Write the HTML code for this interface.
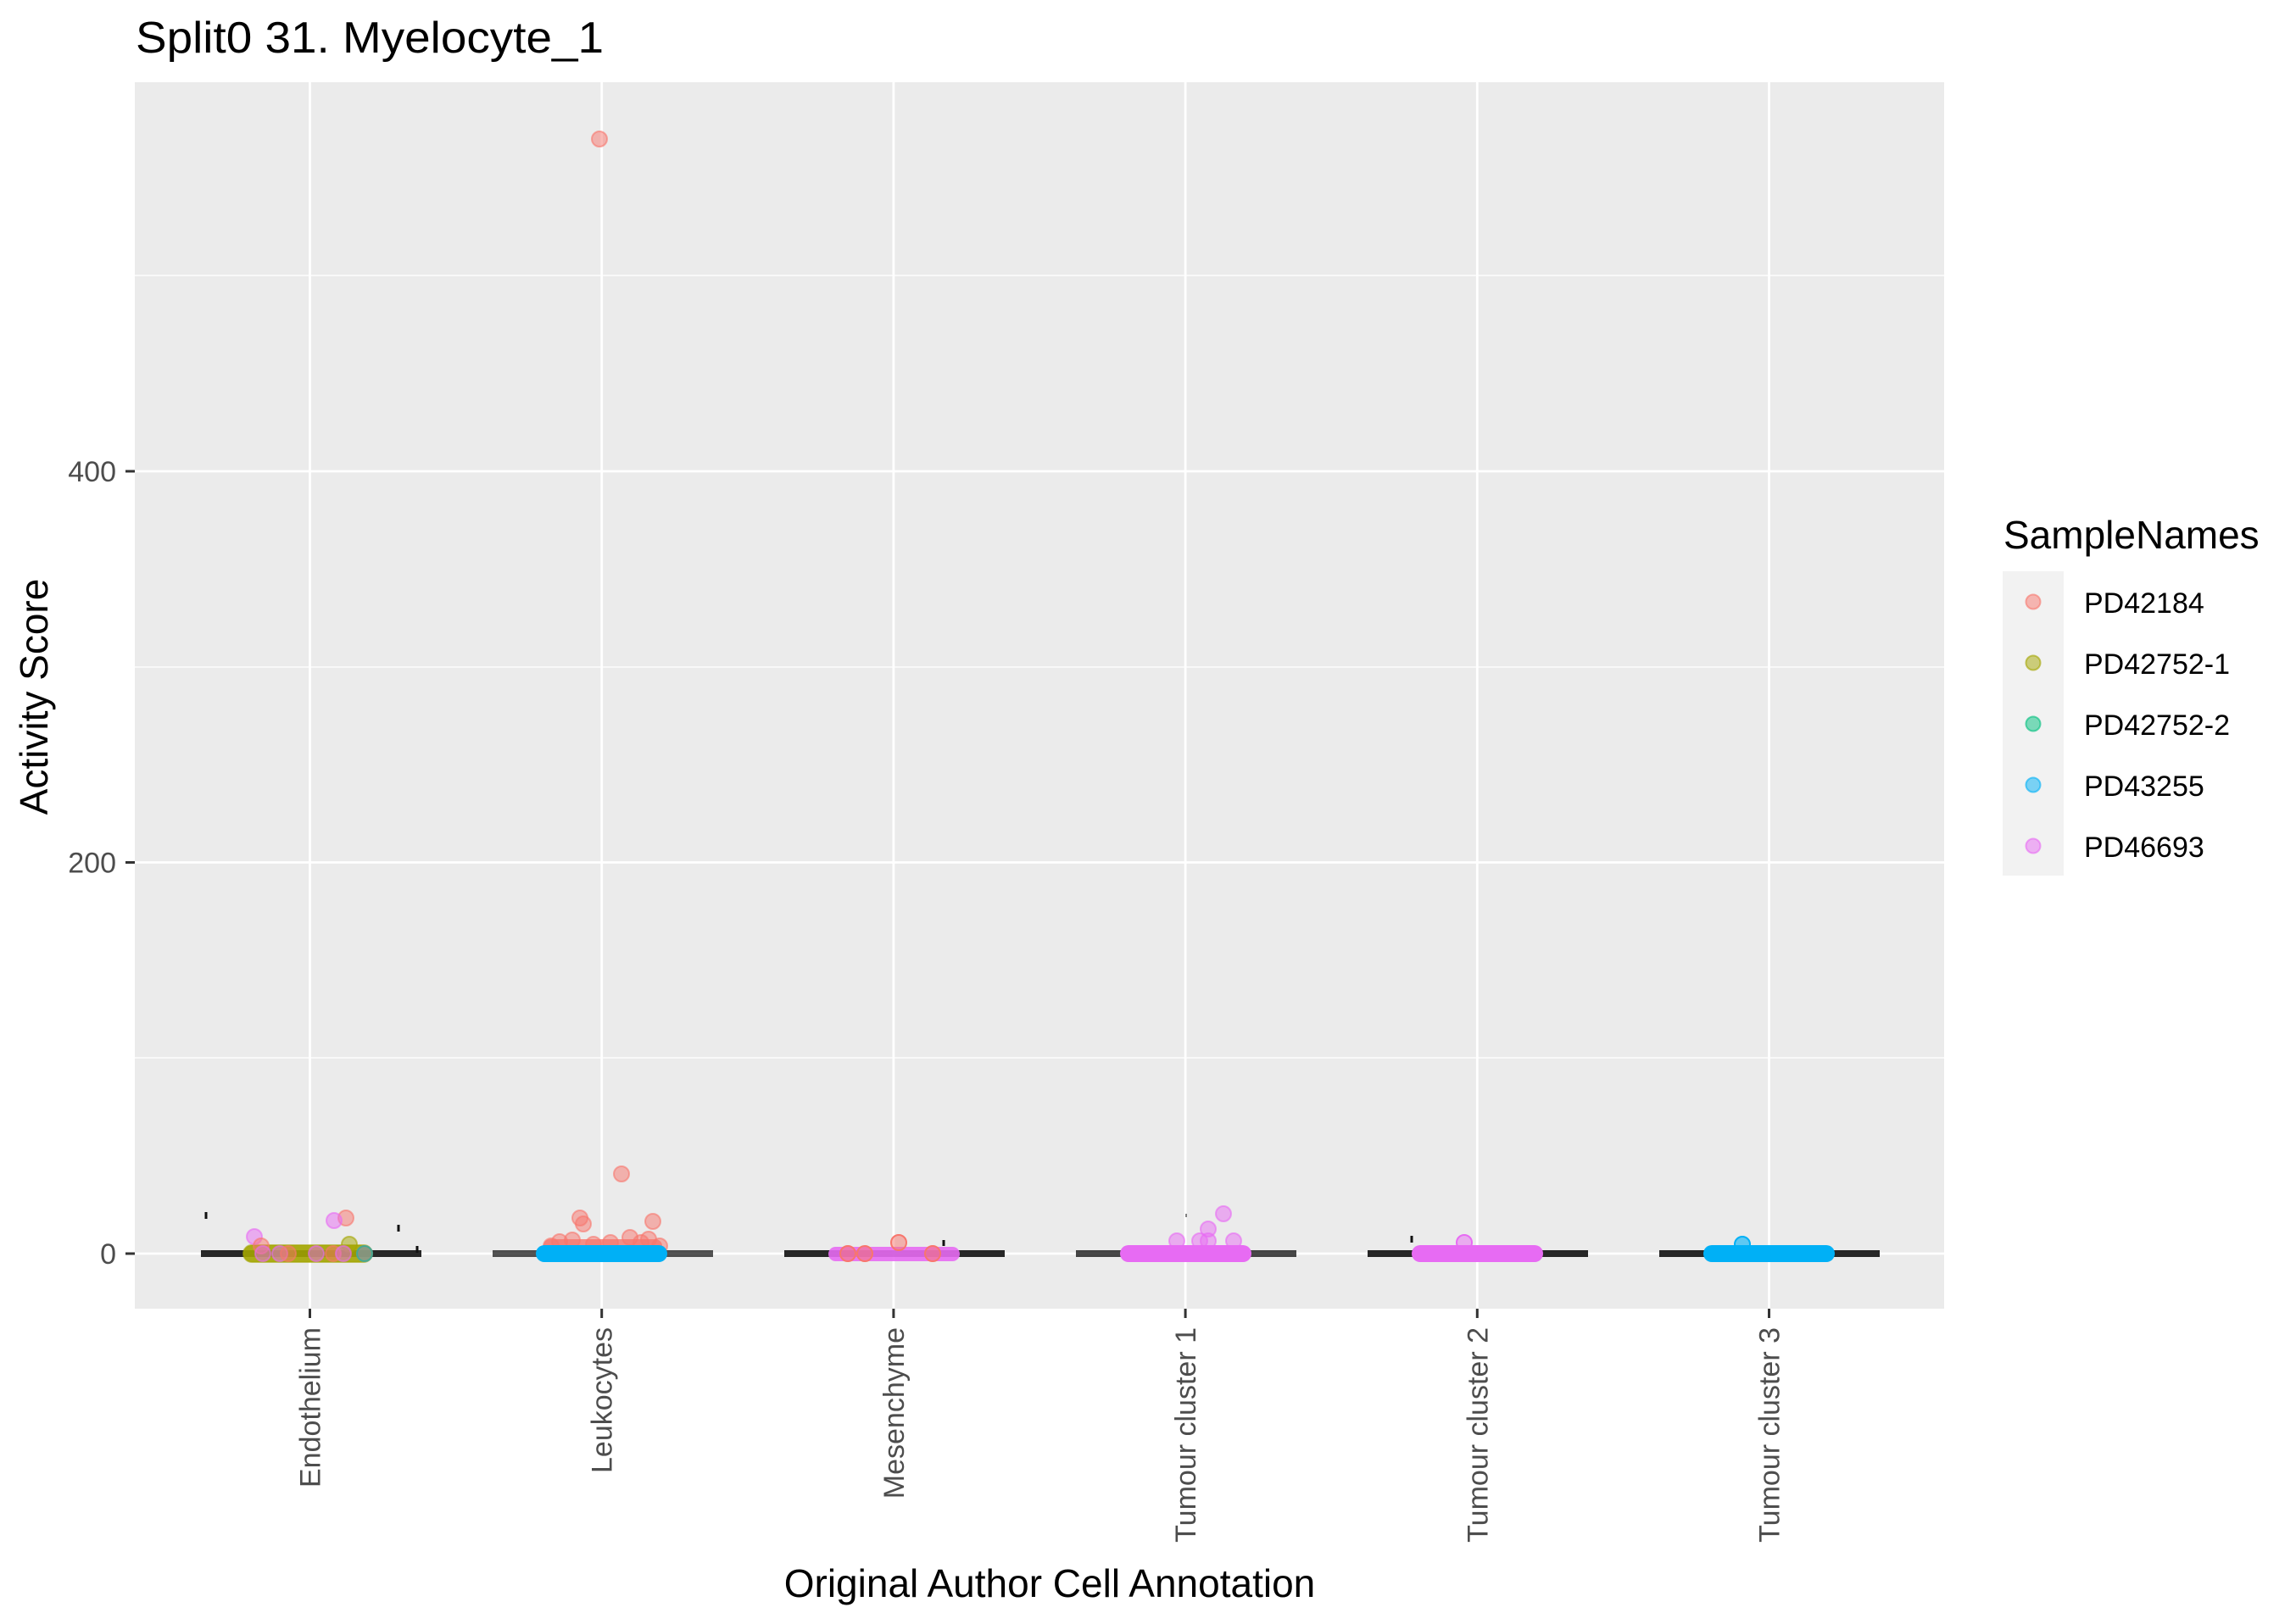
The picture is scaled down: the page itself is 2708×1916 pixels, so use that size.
<!DOCTYPE html>
<html><head><meta charset="utf-8"><style>html,body{margin:0;padding:0;background:#fff}svg{display:block}</style></head>
<body>
<svg width="2708" height="1916" viewBox="0 0 2708 1916" xmlns="http://www.w3.org/2000/svg" font-family="Liberation Sans, Arial, sans-serif">
<rect width="2708" height="1916" fill="#fff"/>
<text x="160" y="62" font-size="52" fill="#000" textLength="552" lengthAdjust="spacingAndGlyphs">Split0 31. Myelocyte_1</text>
<rect x="159" y="97" width="2134" height="1447" fill="#ebebeb"/>
<g stroke="#fff" stroke-width="1.3">
<line x1="159" x2="2293" y1="1248" y2="1248"/>
<line x1="159" x2="2293" y1="787" y2="787"/>
<line x1="159" x2="2293" y1="325" y2="325"/>
</g>
<g stroke="#fff" stroke-width="2.8">
<line x1="159" x2="2293" y1="1479" y2="1479"/>
<line x1="159" x2="2293" y1="1017.5" y2="1017.5"/>
<line x1="159" x2="2293" y1="556" y2="556"/>
<line x1="365.5" x2="365.5" y1="97" y2="1544"/>
<line x1="709.7" x2="709.7" y1="97" y2="1544"/>
<line x1="1053.9" x2="1053.9" y1="97" y2="1544"/>
<line x1="1398.1" x2="1398.1" y1="97" y2="1544"/>
<line x1="1742.3" x2="1742.3" y1="97" y2="1544"/>
<line x1="2086.5" x2="2086.5" y1="97" y2="1544"/>
</g>
<g fill="#111" opacity="0.9">
<rect x="237" y="1475" width="260" height="8"/>
<rect x="581" y="1475" width="260" height="8" opacity="0.8"/>
<rect x="925" y="1475" width="260" height="8"/>
<rect x="1269" y="1475" width="260" height="8" opacity="0.85"/>
<rect x="1613" y="1475" width="260" height="8"/>
<rect x="1957" y="1475" width="260" height="8"/>
</g>
<g stroke="#111" stroke-width="3">
<line x1="243" x2="243" y1="1430" y2="1438"/>
<line x1="470" x2="470" y1="1445" y2="1453"/>
<line x1="492" x2="492" y1="1470" y2="1478"/>
<line x1="1399" x2="1399" y1="1432" y2="1436" stroke-width="1"/>
<line x1="1665" x2="1665" y1="1458" y2="1466"/>
<line x1="1113" x2="1113" y1="1463" y2="1470"/>
</g>
<g fill-opacity="0.5" stroke-opacity="0.6" stroke-width="2">
<rect x="287" y="1469" width="152" height="20" rx="10" fill="#a3a500" stroke="#a3a500" fill-opacity="0.9"/>
<circle cx="300" cy="1459" r="9" fill="#e76bf3" stroke="#e76bf3"/>
<circle cx="408" cy="1437" r="9" fill="#f8766d" stroke="#f8766d"/>
<circle cx="394" cy="1440" r="9" fill="#e76bf3" stroke="#e76bf3"/>
<circle cx="412" cy="1468" r="9" fill="#a3a500" stroke="#a3a500"/>
<circle cx="308" cy="1470" r="9" fill="#f8766d" stroke="#f8766d"/>
<circle cx="310" cy="1479" r="9" fill="#e76bf3" stroke="#e76bf3"/>
<circle cx="330" cy="1479" r="9" fill="#e76bf3" stroke="#e76bf3"/>
<circle cx="340" cy="1479" r="9" fill="#f8766d" stroke="#f8766d"/>
<circle cx="373" cy="1479" r="9" fill="#e76bf3" stroke="#e76bf3"/>
<circle cx="393" cy="1479" r="9" fill="#f8766d" stroke="#f8766d"/>
<circle cx="405" cy="1479" r="9" fill="#e76bf3" stroke="#e76bf3"/>
<circle cx="430" cy="1479" r="9" fill="#e76bf3" stroke="#e76bf3"/>
<circle cx="430" cy="1479" r="9" fill="#00bf7d" stroke="#00bf7d" fill-opacity="0.3"/>
</g>
<g fill="#f8766d" stroke="#f8766d" fill-opacity="0.5" stroke-opacity="0.6" stroke-width="2">
<circle cx="707" cy="164" r="9"/>
<circle cx="733" cy="1385" r="9"/>
<circle cx="684" cy="1437" r="9"/>
<circle cx="688" cy="1444" r="9"/>
<circle cx="770" cy="1441" r="9"/>
<circle cx="743" cy="1460" r="9"/>
<circle cx="756" cy="1466" r="9"/>
<circle cx="778" cy="1470" r="9"/>
<circle cx="720" cy="1466" r="9"/>
<circle cx="700" cy="1468" r="9"/>
<circle cx="660" cy="1465" r="9"/>
<circle cx="675" cy="1463" r="9"/>
<circle cx="765" cy="1462" r="9"/>
<circle cx="650" cy="1470" r="9"/>
</g>
<rect x="641" y="1462" width="140" height="16" rx="8" fill="#f8766d" opacity="0.8"/>
<rect x="632" y="1469" width="155" height="20" rx="10" fill="#00b0f6"/>
<rect x="977" y="1471" width="155" height="17" rx="8.5" fill="#e76bf3" opacity="0.9"/>
<g fill="#f8766d" stroke="#f8766d" fill-opacity="0.5" stroke-width="2">
<circle cx="1060" cy="1466" r="9"/><circle cx="1000" cy="1479" r="9"/><circle cx="1020" cy="1479" r="9"/><circle cx="1100" cy="1479" r="9"/>
</g>
<g fill="#e76bf3" stroke="#e76bf3" fill-opacity="0.5" stroke-opacity="0.6" stroke-width="2">
<circle cx="1443" cy="1432" r="9"/><circle cx="1425" cy="1450" r="9"/><circle cx="1388" cy="1464" r="9"/>
<circle cx="1415" cy="1464" r="9"/><circle cx="1425" cy="1464" r="9"/><circle cx="1455" cy="1464" r="9"/>
</g>
<rect x="1321" y="1469" width="155" height="20" rx="10" fill="#e76bf3"/>
<circle cx="1727" cy="1466" r="9" fill="#e76bf3" fill-opacity="0.5" stroke="#e76bf3" stroke-width="2"/>
<rect x="1665" y="1469" width="155" height="20" rx="10" fill="#e76bf3"/>
<circle cx="2055" cy="1468" r="9" fill="#00b0f6" fill-opacity="0.6" stroke="#00b0f6" stroke-width="2"/>
<rect x="2009" y="1469" width="155" height="20" rx="10" fill="#00b0f6"/>
<g stroke="#333" stroke-width="3">
<line x1="148" x2="159" y1="1479" y2="1479"/>
<line x1="148" x2="159" y1="1017.5" y2="1017.5"/>
<line x1="148" x2="159" y1="556" y2="556"/>
<line x1="365.5" x2="365.5" y1="1544" y2="1555"/>
<line x1="709.7" x2="709.7" y1="1544" y2="1555"/>
<line x1="1053.9" x2="1053.9" y1="1544" y2="1555"/>
<line x1="1398.1" x2="1398.1" y1="1544" y2="1555"/>
<line x1="1742.3" x2="1742.3" y1="1544" y2="1555"/>
<line x1="2086.5" x2="2086.5" y1="1544" y2="1555"/>
</g>
<g font-size="34" fill="#4d4d4d" text-anchor="end">
<text x="137" y="1491">0</text>
<text x="137" y="1029.5">200</text>
<text x="137" y="568">400</text>
</g>
<g font-size="34" fill="#4d4d4d" text-anchor="end">
<text transform="translate(377.5,1566) rotate(-90)">Endothelium</text>
<text transform="translate(721.7,1566) rotate(-90)">Leukocytes</text>
<text transform="translate(1065.9,1566) rotate(-90)">Mesenchyme</text>
<text transform="translate(1410.1,1566) rotate(-90)">Tumour cluster 1</text>
<text transform="translate(1754.3,1566) rotate(-90)">Tumour cluster 2</text>
<text transform="translate(2098.5,1566) rotate(-90)">Tumour cluster 3</text>
</g>
<text x="1238" y="1884" font-size="46" text-anchor="middle" fill="#000">Original Author Cell Annotation</text>
<text transform="translate(56,822) rotate(-90)" font-size="46" text-anchor="middle" fill="#000">Activity Score</text>
<text x="2363" y="647" font-size="46" fill="#000">SampleNames</text>
<rect x="2362" y="674" width="72" height="359" fill="#f2f2f2"/>
<g fill-opacity="0.5" stroke-opacity="0.6" stroke-width="2">
<circle cx="2398" cy="710" r="8.5" fill="#f8766d" stroke="#f8766d"/>
<circle cx="2398" cy="782" r="8.5" fill="#a3a500" stroke="#a3a500"/>
<circle cx="2398" cy="854" r="8.5" fill="#00bf7d" stroke="#00bf7d"/>
<circle cx="2398" cy="926" r="8.5" fill="#00b0f6" stroke="#00b0f6"/>
<circle cx="2398" cy="998" r="8.5" fill="#e76bf3" stroke="#e76bf3"/>
</g>
<g font-size="34" fill="#000">
<text x="2458" y="723">PD42184</text>
<text x="2458" y="795">PD42752-1</text>
<text x="2458" y="867">PD42752-2</text>
<text x="2458" y="939">PD43255</text>
<text x="2458" y="1011">PD46693</text>
</g>
</svg>
</body></html>
